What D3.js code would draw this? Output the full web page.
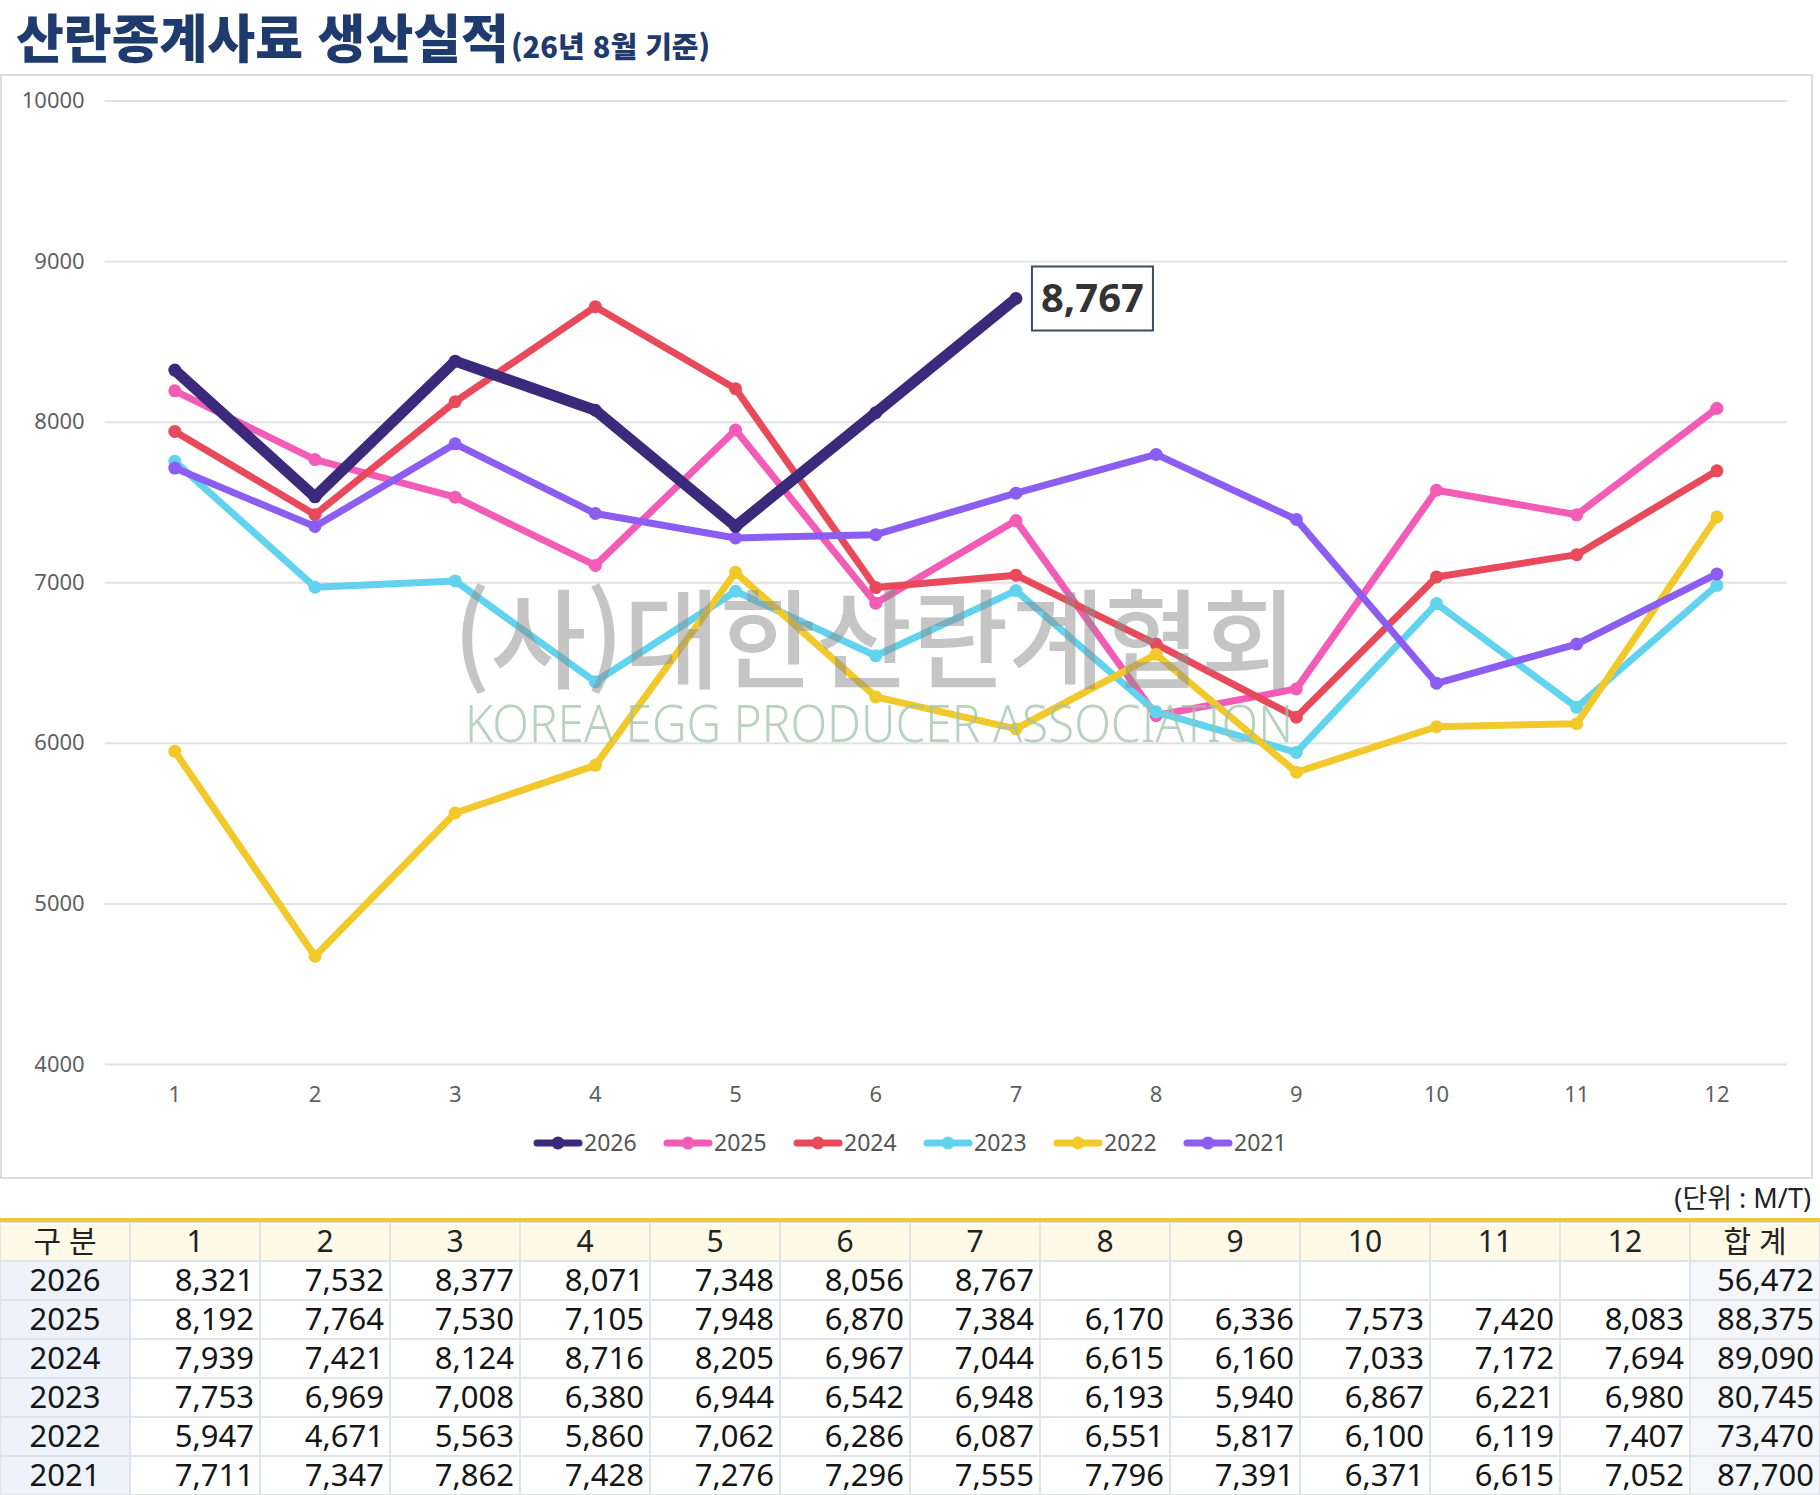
<!DOCTYPE html>
<html lang="ko">
<head>
<meta charset="utf-8">
<title>산란종계사료 생산실적</title>
<script src="https://cdn.jsdelivr.net/npm/d3@7"></script>
<style>
  html, body { margin: 0; padding: 0; background: #fff; }
  svg { display: block; }
  text { font-family: "Noto Sans", "Noto Sans CJK KR", sans-serif; }
</style>
</head>
<body>
<svg id="chart" width="1820" height="1495"></svg>
<script>
const MONTHS = ['1', '2', '3', '4', '5', '6', '7', '8', '9', '10', '11', '12'];
const YEARS = ['2026', '2025', '2024', '2023', '2022', '2021'];
const Y_TICKS = [4000, 5000, 6000, 7000, 8000, 9000, 10000];

const V2026 = [8321, 7532, 8377, 8071, 7348, 8056, 8767];
const V2025 = [8192, 7764, 7530, 7105, 7948, 6870, 7384, 6170, 6336, 7573, 7420, 8083];
const V2024 = [7939, 7421, 8124, 8716, 8205, 6967, 7044, 6615, 6160, 7033, 7172, 7694];
const V2023 = [7753, 6969, 7008, 6380, 6944, 6542, 6948, 6193, 5940, 6867, 6221, 6980];
const V2022 = [5947, 4671, 5563, 5860, 7062, 6286, 6087, 6551, 5817, 6100, 6119, 7407];
const V2021 = [7711, 7347, 7862, 7428, 7276, 7296, 7555, 7796, 7391, 6371, 6615, 7052];
const TOTALS = [56472, 88375, 89090, 80745, 73470, 87700];

const SERIES_VALUES = [V2026, V2025, V2024, V2023, V2022, V2021];
const COLORS = ['#3b2a7c', '#f35cb6', '#e84a5c', '#62d3ef', '#f1c92b', '#8b5df1'];

const series = YEARS.map((year, i) => ({
  year,
  color: COLORS[i],
  values: SERIES_VALUES[i],
  total: TOTALS[i],
  width: i === 0 ? 11 : 7
}));

const fmt = d3.format(',');
const svg = d3.select('#chart');

// ---- title ----
const title = svg.append('text')
  .attr('x', 16)
  .attr('y', 58)
  .style('font-family', '"Noto Sans CJK KR", sans-serif')
  .style('font-weight', 900)
  .style('fill', '#1f3b6e');
title.append('tspan').style('font-size', '52px').text('산란종계사료 생산실적');
title.append('tspan').style('font-size', '29px').attr('dx', 2).text('(26년 8월 기준)');

// ---- chart frame ----
svg.append('rect')
  .attr('x', 1).attr('y', 75)
  .attr('width', 1811).attr('height', 1103)
  .attr('fill', '#fff')
  .attr('stroke', '#dcdcdc')
  .attr('stroke-width', 2);

const PLOT = { left: 104.7, right: 1787, top: 100.5, bottom: 1064 };

const x = d3.scaleBand().domain(MONTHS).range([PLOT.left, PLOT.right]);
const cx = (m) => x(m) + x.bandwidth() / 2;
const y = d3.scaleLinear().domain([4000, 10000]).range([PLOT.bottom, PLOT.top]);

const yAxisG = svg.append('g')
  .attr('transform', `translate(${PLOT.left},0)`)
  .call(d3.axisLeft(y).tickValues(Y_TICKS).tickFormat(d3.format('d'))
    .tickSize(-(PLOT.right - PLOT.left)).tickPadding(20));
yAxisG.select('.domain').remove();
yAxisG.selectAll('line').attr('stroke', '#e2e2e2').attr('stroke-width', 2);
yAxisG.selectAll('text')
  .style('font-size', '22px')
  .style('fill', '#5f5f5f');

const xAxisG = svg.append('g')
  .attr('transform', `translate(0,${PLOT.bottom})`)
  .call(d3.axisBottom(x).tickSize(0).tickPadding(22));
xAxisG.select('.domain').remove();
xAxisG.selectAll('text')
  .style('font-size', '22px')
  .style('fill', '#5f5f5f');

// ---- lines ----
const line = d3.line()
  .x((d, i) => cx(MONTHS[i]))
  .y((d) => y(d));

// draw 2026 last so the highlighted year sits on top
const drawOrder = series.slice(1).concat(series[0]);

const seriesG = svg.append('g').selectAll('g.series')
  .data(drawOrder)
  .join('g')
  .attr('class', 'series');

seriesG.append('path')
  .attr('d', (d) => line(d.values))
  .attr('fill', 'none')
  .attr('stroke', (d) => d.color)
  .attr('stroke-width', (d) => d.width)
  .attr('stroke-linejoin', 'round')
  .attr('stroke-linecap', 'round');

seriesG.selectAll('circle')
  .data((d) => d.values.map((v, i) => ({ v, i, color: d.color })))
  .join('circle')
  .attr('cx', (d) => cx(MONTHS[d.i]))
  .attr('cy', (d) => y(d.v))
  .attr('r', 6.5)
  .attr('fill', (d) => d.color);

// ---- watermark (sits over the lines, semi-transparent) ----
svg.append('text')
  .attr('x', 453).attr('y', 680)
  .attr('textLength', 844)
  .attr('lengthAdjust', 'spacingAndGlyphs')
  .style('font-family', '"Noto Sans CJK KR", sans-serif')
  .style('font-size', '108px')
  .style('font-weight', 500)
  .style('fill', '#8c8c8c')
  .style('opacity', 0.5)
  .text('(사)대한산란계협회');

svg.append('text')
  .attr('x', 465).attr('y', 742)
  .attr('textLength', 828)
  .attr('lengthAdjust', 'spacingAndGlyphs')
  .style('font-size', '52px')
  .style('font-weight', 300)
  .style('fill', '#9fc4aa')
  .style('opacity', 0.75)
  .text('KOREA EGG PRODUCER ASSOCIATION');

// ---- last-value label for 2026 ----
const lastIdx = V2026.length - 1;
const px = cx(MONTHS[lastIdx]);
const py = y(V2026[lastIdx]);
const labelG = svg.append('g').attr('transform', `translate(${px + 16},${py - 32})`);
labelG.append('rect')
  .attr('width', 121).attr('height', 64)
  .attr('fill', '#fff')
  .attr('stroke', '#3c4b60')
  .attr('stroke-width', 2);
labelG.append('text')
  .attr('x', 60.5).attr('y', 46)
  .attr('text-anchor', 'middle')
  .style('font-family', '"Open Sans", "Noto Sans", sans-serif')
  .style('font-size', '40px')
  .style('font-weight', 700)
  .style('fill', '#333')
  .text(fmt(V2026[lastIdx]));

// ---- legend ----
const legend = svg.append('g').attr('transform', 'translate(534,1143)');
const legendItem = legend.selectAll('g')
  .data(series)
  .join('g')
  .attr('transform', (d, i) => `translate(${i * 130},0)`);
legendItem.append('line')
  .attr('x1', 3).attr('x2', 45)
  .attr('stroke', (d) => d.color)
  .attr('stroke-width', 7)
  .attr('stroke-linecap', 'round');
legendItem.append('circle')
  .attr('cx', 24).attr('r', 6.5)
  .attr('fill', (d) => d.color);
legendItem.append('text')
  .attr('x', 50).attr('dy', '0.36em')
  .style('font-size', '23px')
  .style('fill', '#555')
  .text((d) => d.year);

// ---- table ----
svg.append('text')
  .attr('x', 1811).attr('y', 1208)
  .attr('text-anchor', 'end')
  .style('font-size', '27px')
  .style('fill', '#222')
  .text('(단위 : M/T)');

const COLS = ['구 분'].concat(MONTHS, ['합 계']);
const colW = 1820 / COLS.length;
const TABLE_TOP = 1222;
const headH = 39;
const rowH = (1495 - TABLE_TOP - headH) / YEARS.length;

const table = svg.append('g');

// header row
const head = table.selectAll('g.head')
  .data(COLS)
  .join('g')
  .attr('class', 'head')
  .attr('transform', (d, i) => `translate(${i * colW},${TABLE_TOP})`);
head.append('rect')
  .attr('width', colW).attr('height', headH)
  .attr('fill', '#fff9e7')
  .attr('stroke', '#e3e3e3')
  .attr('stroke-width', 2);
head.append('text')
  .attr('x', colW / 2).attr('y', headH - 9)
  .attr('text-anchor', 'middle')
  .style('font-size', '30px')
  .style('fill', '#222')
  .text((d) => d);

// data rows
const rows = table.selectAll('g.row')
  .data(series)
  .join('g')
  .attr('class', 'row')
  .attr('transform', (d, i) => `translate(0,${TABLE_TOP + headH + i * rowH})`);

const cells = rows.selectAll('g.cell')
  .data((d) => {
    const vals = MONTHS.map((m, i) => (d.values[i] != null ? fmt(d.values[i]) : ''));
    return [d.year].concat(vals, [fmt(d.total)]);
  })
  .join('g')
  .attr('class', 'cell')
  .attr('transform', (d, i) => `translate(${i * colW},0)`);

cells.append('rect')
  .attr('width', colW).attr('height', rowH)
  .attr('fill', (d, i) => (i === 0 ? '#eef2fb' : i === COLS.length - 1 ? '#f5f6fa' : '#fff'))
  .attr('stroke', '#dfe3ea')
  .attr('stroke-width', 2);
cells.append('text')
  .attr('x', (d, i) => (i === 0 ? colW / 2 : colW - 6))
  .attr('y', rowH - 9)
  .attr('text-anchor', (d, i) => (i === 0 ? 'middle' : 'end'))
  .style('font-size', '31px')
  .style('fill', '#151515')
  .text((d) => d);

// yellow rule over the table
table.append('rect')
  .attr('x', 0).attr('y', TABLE_TOP - 4)
  .attr('width', 1820).attr('height', 4)
  .attr('fill', '#eec83a');
</script>
</body>
</html>
